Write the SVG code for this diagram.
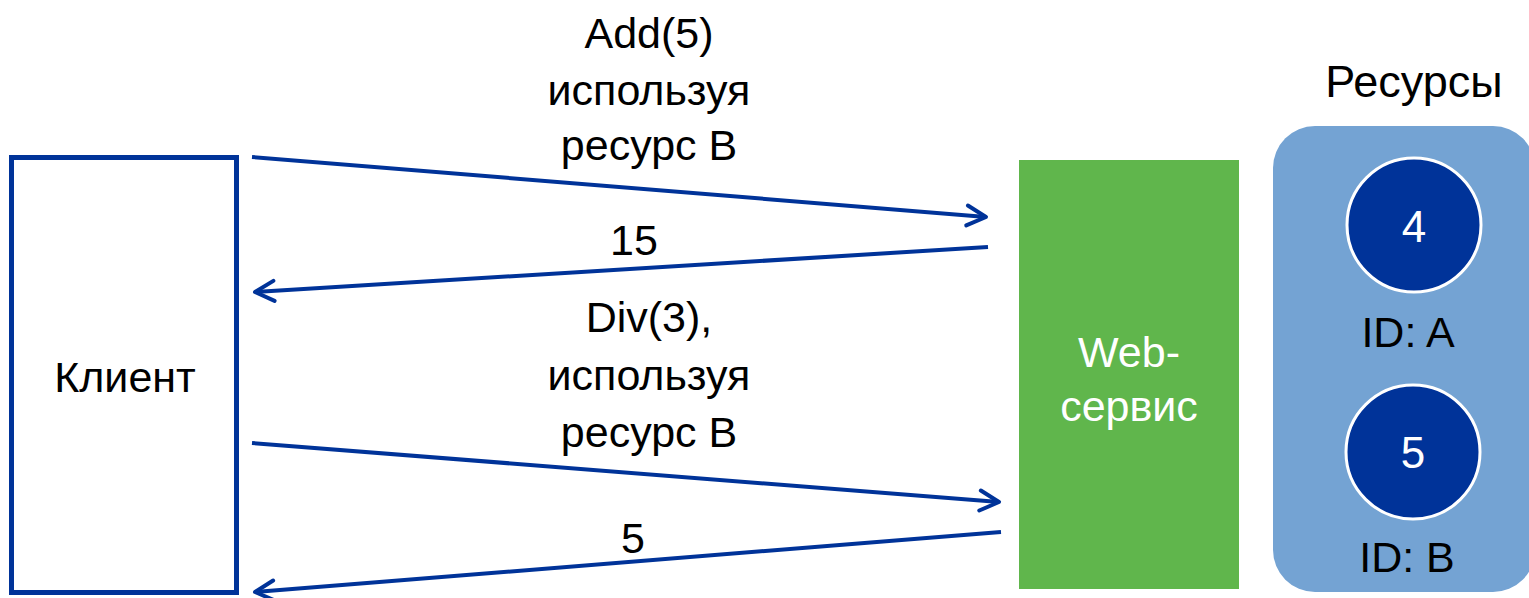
<svg xmlns="http://www.w3.org/2000/svg" width="1529" height="598" viewBox="0 0 1529 598">
<defs>
<style>
.t{font-family:"Liberation Sans",Arial,sans-serif;font-size:43px;fill:#000;text-anchor:middle}
.w{fill:#fff}
.conn{stroke:#003399;stroke-width:4;fill:none}
</style>
<marker id="ah" markerUnits="userSpaceOnUse" markerWidth="30" markerHeight="30" viewBox="-24 -15 30 30" refX="0" refY="0" orient="auto">
<path d="M-19,-10 L0,0 L-19,10" fill="none" stroke="#003399" stroke-width="4" stroke-linecap="round" stroke-linejoin="round"/>
</marker>
</defs>
<rect width="1529" height="598" fill="#fff"/>
<g id="client">
<rect x="11.5" y="157.5" width="225" height="435" fill="#fff" stroke="#003399" stroke-width="5"/>
<text class="t" x="125" y="392">Клиент</text>
</g>
<g id="webservice">
<rect x="1019" y="160" width="220" height="429" fill="#60B64C"/>
<text class="t w" x="1129" y="367">Web-</text>
<text class="t w" x="1129" y="421">сервис</text>
</g>
<g id="resources">
<text class="t" x="1414" y="97" style="font-size:45px">Ресурсы</text>
<rect x="1273" y="126" width="262" height="466" rx="42" fill="#74A3D3"/>
<g id="resA">
<circle cx="1414" cy="225" r="67" fill="#003399" stroke="#fff" stroke-width="3"/>
<text class="t w" x="1414" y="242" style="font-size:44px">4</text>
<text class="t" x="1408" y="347">ID: A</text>
</g>
<g id="resB">
<circle cx="1413" cy="452" r="67" fill="#003399" stroke="#fff" stroke-width="3"/>
<text class="t w" x="1413" y="468" style="font-size:44px">5</text>
<text class="t" x="1407" y="572">ID: B</text>
</g>
</g>
<g id="connectors">
<line class="conn" x1="252" y1="157" x2="986" y2="217" marker-end="url(#ah)"/>
<line class="conn" x1="988" y1="247" x2="255" y2="292" marker-end="url(#ah)"/>
<line class="conn" x1="252" y1="443" x2="999" y2="502" marker-end="url(#ah)"/>
<line class="conn" x1="1001" y1="532" x2="255" y2="592" marker-end="url(#ah)"/>
<text class="t" x="649" y="48">Add(5)</text>
<text class="t" x="649" y="105">используя</text>
<text class="t" x="649" y="160">ресурс B</text>
<text class="t" x="634" y="255">15</text>
<text class="t" x="649" y="332">Div(3),</text>
<text class="t" x="649" y="390">используя</text>
<text class="t" x="649" y="447">ресурс B</text>
<text class="t" x="633" y="553">5</text>
</g>
</svg>
